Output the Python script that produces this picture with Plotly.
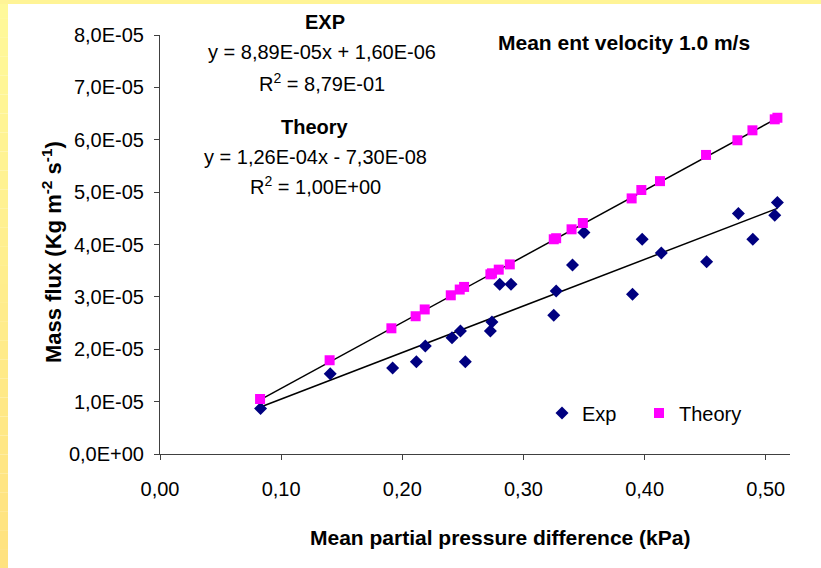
import plotly.graph_objects as go

# ---- data ----
exp_x = [0.083, 0.1405, 0.192, 0.2116, 0.219, 0.241, 0.248, 0.252, 0.2727, 0.274,
         0.2804, 0.2897, 0.325, 0.327, 0.3405, 0.3499, 0.390, 0.398, 0.4138, 0.4512,
         0.4774, 0.4893, 0.5074, 0.5096]
exp_y = [0.87e-5, 1.53e-5, 1.64e-5, 1.76e-5, 2.06e-5, 2.22e-5, 2.35e-5, 1.76e-5, 2.35e-5, 2.52e-5,
         3.24e-5, 3.24e-5, 2.65e-5, 3.11e-5, 3.61e-5, 4.23e-5, 3.05e-5, 4.10e-5, 3.84e-5, 3.67e-5,
         4.59e-5, 4.10e-5, 4.56e-5, 4.80e-5]
theory_x = [0.0826, 0.140, 0.191, 0.211, 0.2185, 0.240, 0.2474, 0.251, 0.2727, 0.274,
            0.2796, 0.2887, 0.325, 0.327, 0.3397, 0.349, 0.3893, 0.3973, 0.4127, 0.4507,
            0.4766, 0.489, 0.5074, 0.5096]
theory_y = [1.05e-5, 1.79e-5, 2.40e-5, 2.63e-5, 2.76e-5, 3.03e-5, 3.14e-5, 3.19e-5, 3.43e-5, 3.45e-5,
            3.52e-5, 3.62e-5, 4.10e-5, 4.12e-5, 4.29e-5, 4.41e-5, 4.88e-5, 5.04e-5, 5.21e-5, 5.71e-5,
            5.99e-5, 6.18e-5, 6.39e-5, 6.42e-5]
exp_fit = [8.89e-5, 1.60e-6]      # slope, intercept
theory_fit = [1.26e-4, -7.30e-8]

x_tickvals = [0.0, 0.1, 0.2, 0.3, 0.4, 0.5]
x_ticktext = ["0,00", "0,10", "0,20", "0,30", "0,40", "0,50"]
y_tickvals = [0, 1e-5, 2e-5, 3e-5, 4e-5, 5e-5, 6e-5, 7e-5, 8e-5]
y_ticktext = ["0,0E+00", "1,0E-05", "2,0E-05", "3,0E-05", "4,0E-05",
              "5,0E-05", "6,0E-05", "7,0E-05", "8,0E-05"]

W, H = 821, 568
L, R, T, B = 160, 31, 35, 114
FONT = "Liberation Sans, Arial, sans-serif"
FS = 20

def fx(px):
    return (px - L) / (W - L - R)

def fy(py):
    return (H - B - py) / (H - T - B)

fig = go.Figure()

# trendlines
for xs, fit in [(exp_x, exp_fit), (theory_x, theory_fit)]:
    x0, x1 = min(xs), max(xs)
    fig.add_trace(go.Scatter(x=[x0, x1], y=[fit[0] * x0 + fit[1], fit[0] * x1 + fit[1]],
                             mode="lines", line=dict(color="black", width=1.5),
                             showlegend=False, hoverinfo="skip"))

fig.add_trace(go.Scatter(x=exp_x, y=exp_y, mode="markers", name="Exp", legend="legend",
                         marker=dict(symbol="diamond", size=10, color="#000080")))
fig.add_trace(go.Scatter(x=theory_x, y=theory_y, mode="markers", name="Theory", legend="legend2",
                         marker=dict(symbol="square", size=10, color="#FF00FF")))

shapes = []
# yellow border: left strip and top strip with gradient
n = 30
top_c = (255, 249, 154)
bot_c = (255, 226, 127)
for i in range(n):
    t = i / (n - 1)
    c = tuple(int(round(top_c[k] + (bot_c[k] - top_c[k]) * t)) for k in range(3))
    shapes.append(dict(type="rect", xref="paper", yref="paper",
                       x0=fx(0), x1=fx(8), y0=fy(H * (i + 1) / n), y1=fy(H * i / n),
                       fillcolor="rgb(%d,%d,%d)" % c, line=dict(width=0), layer="below"))
shapes.append(dict(type="rect", xref="paper", yref="paper",
                   x0=fx(0), x1=fx(W), y0=fy(4), y1=fy(0),
                   fillcolor="rgb(255,244,150)", line=dict(width=0), layer="below"))

annotations = []
def txt(s, x, y, bold=False, size=FS, xanchor="center"):
    annotations.append(dict(text=("<b>%s</b>" % s) if bold else s, x=fx(x), y=fy(y),
                            xref="paper", yref="paper", showarrow=False,
                            xanchor=xanchor, yanchor="middle",
                            font=dict(family=FONT, size=size, color="black")))

txt("EXP", 325, 22, bold=True)
txt("y = 8,89E-05x + 1,60E-06", 322, 52)
txt("R<sup>2</sup> = 8,79E-01", 322, 82)
txt("Theory", 315, 127, bold=True)
txt("y = 1,26E-04x - 7,30E-08", 315, 157)
txt("R<sup>2</sup> = 1,00E+00", 315, 185)
txt("Mean ent velocity 1.0 m/s", 624, 42, bold=True, size=21)
txt("Mean partial pressure difference (kPa)", 500, 537, bold=True, size=21)
annotations.append(dict(text="<b>Mass flux (Kg m<sup>-2</sup> s<sup>-1</sup>)</b>",
                        x=fx(52), y=fy(252), xref="paper", yref="paper", showarrow=False,
                        textangle=-90, xanchor="center", yanchor="middle",
                        font=dict(family=FONT, size=22, color="black")))

legend_common = dict(orientation="h", y=fy(413), xanchor="left", yanchor="middle",
                     bgcolor="rgba(0,0,0,0)", font=dict(family=FONT, size=FS))

fig.update_layout(
    width=W, height=H,
    margin=dict(l=L, r=R, t=T, b=B),
    paper_bgcolor="white", plot_bgcolor="white",
    font=dict(family=FONT, size=FS, color="black"),
    shapes=shapes, annotations=annotations,
    legend=dict(x=fx(542), **legend_common),
    legend2=dict(x=fx(639), **legend_common),
    xaxis=dict(range=[0, 0.52], tickvals=x_tickvals, ticktext=x_ticktext,
               showgrid=False, zeroline=False, showline=True, linecolor="#404040",
               linewidth=1, ticks="outside", ticklen=5, tickcolor="#404040",
               tickfont=dict(size=FS), ticklabelstandoff=12),
    yaxis=dict(range=[0, 8e-5], tickvals=y_tickvals, ticktext=y_ticktext,
               showgrid=False, zeroline=False, showline=True, linecolor="#404040",
               linewidth=1, ticks="outside", ticklen=5, tickcolor="#404040",
               tickfont=dict(size=FS), ticklabelstandoff=6),
)

fig.write_html("out.html")
